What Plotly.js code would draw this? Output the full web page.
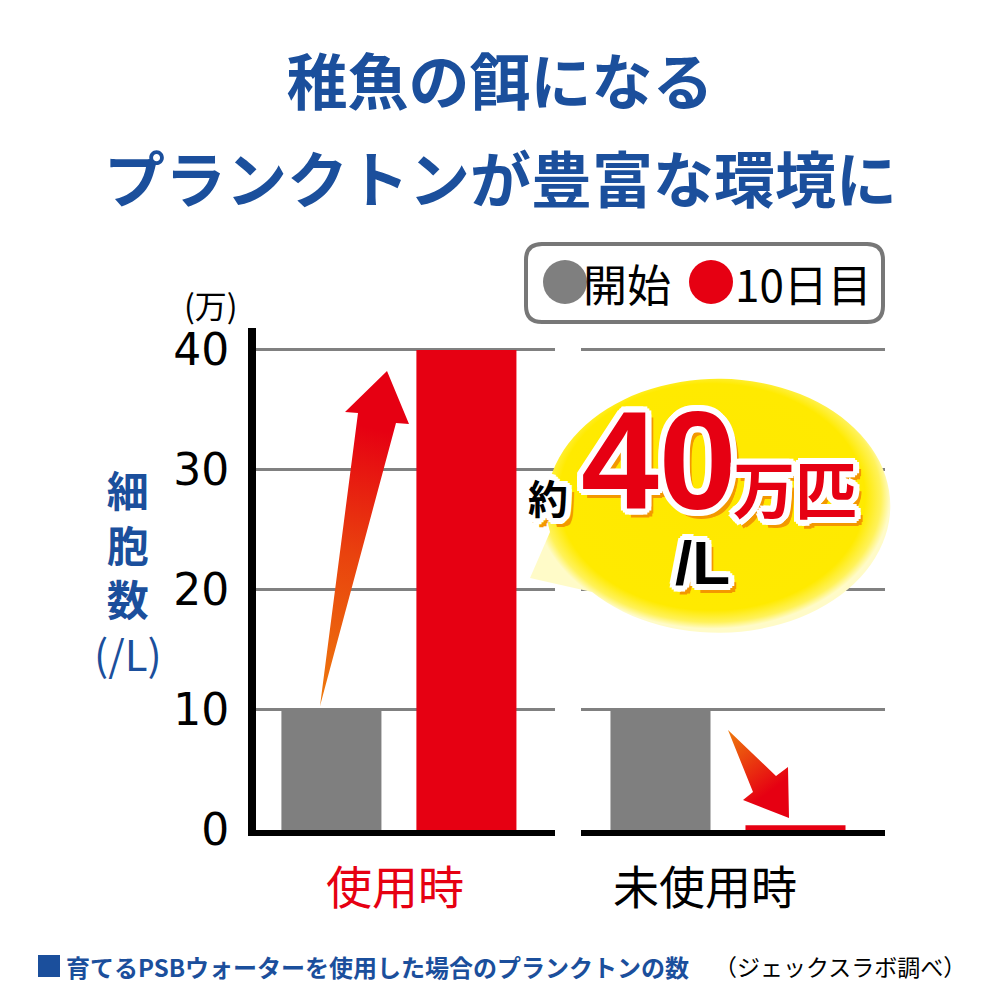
<!DOCTYPE html>
<html>
<head>
<meta charset="utf-8">
<script src="https://cdn.plot.ly/plotly-3.0.1.min.js"></script>
<style>html,body{margin:0;padding:0;background:#fff;}#chart{width:1000px;height:1000px;}</style>
</head>
<body>
<div id="chart"></div>
<script>
// ---- data ----
const categories = ['使用時', '未使用時'];
const seriesNames = ['開始', '10日目'];
const startValues = [10, 10];
const day10Values = [40, 0.4];
const yTickVals = [0, 10, 20, 30, 40];
const yTickText = ['0', '10', '20', '30', '40'];
const titleLines = ['稚魚の餌になる', 'プランクトンが豊富な環境に'];

// ---- layout geometry (pixels) ----
const L = 256, R = 885, T = 328, B = 830;
const W = R - L, H = B - T;
const pX = x => (x - L) / W;
const pY = y => (B - y) / H;

const BLUE = '#1b4f9c', RED = '#e60012', GRAY = '#7f7f7f';
const JP = '"Noto Sans CJK JP", "Noto Sans", sans-serif';

const traces = [
  {type:'bar', name:seriesNames[0], x:[categories[0]], y:[startValues[0]], xaxis:'x', yaxis:'y', marker:{color:GRAY}, showlegend:false, hoverinfo:'skip'},
  {type:'bar', name:seriesNames[1], x:[categories[0]], y:[day10Values[0]], xaxis:'x', yaxis:'y', marker:{color:RED}, showlegend:false, hoverinfo:'skip'},
  {type:'bar', name:seriesNames[0], x:[categories[1]], y:[startValues[1]], xaxis:'x2', yaxis:'y', marker:{color:GRAY}, showlegend:false, hoverinfo:'skip'},
  {type:'bar', name:seriesNames[1], x:[categories[1]], y:[day10Values[1]], xaxis:'x2', yaxis:'y', marker:{color:RED}, showlegend:false, hoverinfo:'skip'}
];

// decorative overlay: speech bubble and arrows (pixel space 0..1000)
const svg = `<svg xmlns="http://www.w3.org/2000/svg" width="1000" height="1000" viewBox="0 0 1000 1000" preserveAspectRatio="none">
<defs>
<radialGradient id="bub" gradientUnits="userSpaceOnUse" cx="712" cy="497" r="178" gradientTransform="translate(712 497) scale(1 0.74) translate(-712 -497)">
<stop offset="0" stop-color="#ffe800"/><stop offset="0.86" stop-color="#ffea00"/><stop offset="0.95" stop-color="#fff25a"/><stop offset="1" stop-color="#fffbc8"/>
</radialGradient>
<linearGradient id="a1" gradientUnits="userSpaceOnUse" x1="320" y1="706" x2="380" y2="430">
<stop offset="0" stop-color="#ee7a0c"/><stop offset="0.55" stop-color="#e9420e"/><stop offset="1" stop-color="#e60012"/>
</linearGradient>
<linearGradient id="a2" gradientUnits="userSpaceOnUse" x1="728" y1="730" x2="772" y2="790">
<stop offset="0" stop-color="#ee7a0c"/><stop offset="1" stop-color="#e60012"/>
</linearGradient>
</defs>
<path d="M 550 532 A 172 127 0 1 1 592 592 L 530 578 Z" fill="url(#bub)"/>
<polygon points="320,706 396,423 409,424 387,371 345,412 358,413" fill="url(#a1)"/>
<polygon points="728,730 776,776 788,767 789,818 743,800 753,792" fill="url(#a2)"/>
</svg>`;
const svgURI = 'data:image/svg+xml;charset=utf-8,' + encodeURIComponent(svg);

const outline = [
  '5px 0 0 #fff','-5px 0 0 #fff','0 5px 0 #fff','0 -5px 0 #fff',
  '4px 4px 0 #fff','-4px 4px 0 #fff','4px -4px 0 #fff','-4px -4px 0 #fff',
  '6px 2px 0 #fff','-6px 2px 0 #fff','2px 6px 0 #fff','-2px 6px 0 #fff',
  '6px -2px 0 #fff','-6px -2px 0 #fff','2px -6px 0 #fff','-2px -6px 0 #fff',
  '7px 8px 0 #f39800','4px 9px 0 #f39800','8px 5px 0 #f39800'
].join(', ');

function ann(text, x, y, size, color, opts) {
  return Object.assign({
    text: text, xref:'paper', yref:'paper', x:pX(x), y:pY(y),
    xanchor:'center', yanchor:'middle', showarrow:false,
    font:{family:JP, size:size, color:color}
  }, opts || {});
}

// rounded legend box path in paper coords
function roundRect(x0, y0, x1, y1, r) {
  const P = (x, y) => pX(x) + ',' + pY(y);
  return 'M' + P(x0 + r, y0) + ' L' + P(x1 - r, y0) + ' Q' + P(x1, y0) + ' ' + P(x1, y0 + r) +
    ' L' + P(x1, y1 - r) + ' Q' + P(x1, y1) + ' ' + P(x1 - r, y1) +
    ' L' + P(x0 + r, y1) + ' Q' + P(x0, y1) + ' ' + P(x0, y1 - r) +
    ' L' + P(x0, y0 + r) + ' Q' + P(x0, y0) + ' ' + P(x0 + r, y0) + ' Z';
}

const layout = {
  width:1000, height:1000,
  paper_bgcolor:'#fff', plot_bgcolor:'rgba(0,0,0,0)',
  margin:{l:L, r:1000 - R, t:T, b:1000 - B, pad:0},
  title:{
    text:titleLines[0],
    font:{family:JP, size:61, color:BLUE, weight:'bold'},
    x:0.5, xref:'container', xanchor:'center',
    y:1 - 84 / 1000, yref:'container', yanchor:'middle'
  },
  barmode:'group', bargap:0.097, bargroupgap:0.259,
  showlegend:false,
  xaxis:{
    domain:[0, 299 / W], range:[-0.478, 0.522], anchor:'y',
    showline:true, linecolor:'#000', linewidth:6, showgrid:false, zeroline:false,
    ticks:'', tickfont:{family:JP, size:46, color:RED}, ticklabelstandoff:13, ticklabelshift:-4
  },
  xaxis2:{
    domain:[325 / W, 1], range:[-0.4916, 0.5251], anchor:'y',
    showline:true, linecolor:'#000', linewidth:6, showgrid:false, zeroline:false,
    ticks:'', tickfont:{family:JP, size:46, color:'#000'}, ticklabelstandoff:13, ticklabelshift:-23
  },
  yaxis:{
    range:[0, 41.83], anchor:'x',
    tickvals:yTickVals, ticktext:yTickText,
    showline:true, linecolor:'#000', linewidth:8,
    showgrid:true, gridcolor:'#808080', gridwidth:3, zeroline:false,
    ticks:'', tickfont:{family:'"DejaVu Sans", sans-serif', size:44, color:'#000'}, ticklabelstandoff:10
  },
  images:[{
    source:svgURI, xref:'paper', yref:'paper', x:pX(0), y:pY(0),
    sizex:1000 / W, sizey:1000 / H, xanchor:'left', yanchor:'top',
    sizing:'stretch', layer:'above'
  }],
  shapes:[
    {type:'path', xref:'paper', yref:'paper', path:roundRect(526, 244, 883, 322, 16), line:{color:'#777', width:4}, fillcolor:'#fff'},
    {type:'circle', xref:'paper', yref:'paper', x0:pX(543), x1:pX(587), y0:pY(260), y1:pY(304), fillcolor:GRAY, line:{width:0}},
    {type:'circle', xref:'paper', yref:'paper', x0:pX(689), x1:pX(733), y0:pY(260), y1:pY(304), fillcolor:RED, line:{width:0}},
    {type:'rect', xref:'paper', yref:'paper', x0:pX(38), x1:pX(60), y0:pY(955), y1:pY(977), fillcolor:BLUE, line:{width:0}}
  ],
  annotations:[
    {text:titleLines[1], xref:'paper', yref:'paper', x:pX(500), y:pY(176), xanchor:'center', yanchor:'middle',
     showarrow:false, font:{family:JP, size:61, color:BLUE, weight:'bold'}},
    ann(seriesNames[0], 627, 283, 44, '#000'),
    ann(seriesNames[1], 803, 283, 44, '#000'),
    ann('(万)', 211, 304, 32, '#000'),
    ann('<b>細</b><br><b>胞</b><br><b>数</b><br>(/L)', 128, 570, 42, BLUE),
    ann('<b>約</b>', 548, 497, 40, '#000', {font:{family:JP, size:40, color:'#000', shadow:outline}}),
    ann('<b>40</b>', 659, 460, 140, RED, {font:{family:'"Liberation Sans", Arial, sans-serif', size:140, color:RED, shadow:outline}}),
    ann('<b>万匹</b>', 795, 487, 62, RED, {font:{family:JP, size:62, color:RED, shadow:outline}}),
    ann('<b>/L</b>', 702, 562, 62, '#000', {font:{family:'"Liberation Sans", Arial, sans-serif', size:62, color:'#000', shadow:outline}}),
    ann('<b>育てるPSBウォーターを使用した場合のプランクトンの数</b>', 64, 966, 24, BLUE, {xanchor:'left'}),
    ann('（ジェックスラボ調べ）', 968, 966, 23, '#000', {xanchor:'right'})
  ]
};

Plotly.newPlot('chart', traces, layout, {displayModeBar:false, staticPlot:true});
</script>
</body>
</html>
